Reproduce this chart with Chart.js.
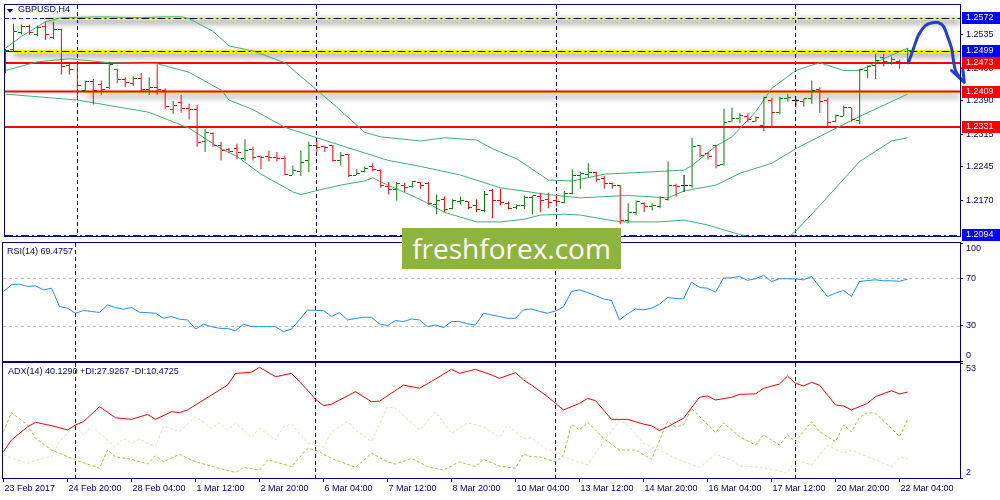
<!DOCTYPE html>
<html>
<head>
<meta charset="utf-8">
<title>GBPUSD,H4</title>
<script src="https://cdn.jsdelivr.net/npm/chart.js@4.4.1/dist/chart.umd.min.js"></script>
<style>
  html, body { margin: 0; padding: 0; background: #fff; }
  #wrap { position: relative; width: 1000px; height: 500px; overflow: hidden; font-family: "Liberation Sans", Arial, sans-serif; }
  canvas { position: absolute; left: 0; }
  .caption { position: absolute; font-size: 9px; line-height: 11px; color: #000080; white-space: nowrap; }
  #tri { position: absolute; left: 7px; top: 9px; width: 0; height: 0; border-left: 3px solid transparent; border-right: 3px solid transparent; border-top: 4px solid #000080; }
  #logo { position: absolute; left: 402px; top: 228px; width: 219px; height: 41px; background: #8db53e; color: #fff; font: 28px "Open Sans", sans-serif; line-height: 41px; text-align: center; }
</style>
</head>
<body>
<div id="wrap">
  <canvas id="main" width="1000" height="241" style="top:0"></canvas>
  <canvas id="rsi" width="1000" height="121" style="top:241px"></canvas>
  <canvas id="adx" width="1000" height="138" style="top:362px"></canvas>
  <div id="tri"></div>
  <div class="caption" style="left:18px;top:4px">GBPUSD,H4</div>
  <div class="caption" style="left:7px;top:246px">RSI(14) 69.4757</div>
  <div class="caption" style="left:8px;top:366px">ADX(14) 40.1290 +DI:27.9267 -DI:10.4725</div>
  <div id="logo">freshforex.com</div>
</div>
<script>
// time axis: one bar every 4 hours, label every 8 bars
const timeLabels = ['23 Feb 2017', '24 Feb 20:00', '28 Feb 04:00', '1 Mar 12:00', '2 Mar 20:00', '6 Mar 04:00', '7 Mar 12:00',
  '8 Mar 20:00', '10 Mar 04:00', '13 Mar 12:00', '14 Mar 20:00', '16 Mar 04:00', '17 Mar 12:00', '20 Mar 20:00', '22 Mar 04:00'];
const labelBars = [0, 8, 16, 24, 32, 40, 48, 56, 64, 72, 80, 88, 96, 104, 112];
const weekStarts = [9, 39, 69, 99];

const opens = [
  1.2456, 1.2503, 1.2540, 1.2553, 1.2535, 1.2553, 1.2529, 1.2546, 1.2467, 1.2471,
  1.2411, 1.2432, 1.2426, 1.2419, 1.2458, 1.2437, 1.2428, 1.2439, 1.2415, 1.2419,
  1.2413, 1.2370, 1.2385, 1.2372, 1.2370, 1.2299, 1.2318, 1.2290, 1.2282, 1.2284,
  1.2262, 1.2282, 1.2267, 1.2267, 1.2265, 1.2262, 1.2226, 1.2234, 1.2258, 1.2290,
  1.2288, 1.2290, 1.2258, 1.2271, 1.2226, 1.2234, 1.2245, 1.2237, 1.2200, 1.2194,
  1.2204, 1.2200, 1.2209, 1.2207, 1.2161, 1.2172, 1.2153, 1.2168, 1.2168, 1.2159,
  1.2148, 1.2191, 1.2170, 1.2164, 1.2155, 1.2159, 1.2176, 1.2179, 1.2172, 1.2170,
  1.2166, 1.2185, 1.2224, 1.2228, 1.2232, 1.2219, 1.2207, 1.2204, 1.2127, 1.2144,
  1.2164, 1.2157, 1.2157, 1.2172, 1.2202, 1.2202, 1.2204, 1.2290, 1.2273, 1.2290,
  1.2250, 1.2344, 1.2351, 1.2355, 1.2344, 1.2336, 1.2391, 1.2363, 1.2394, 1.2389,
  1.2387, 1.2394, 1.2415, 1.2391, 1.2344, 1.2355, 1.2374, 1.2346, 1.2456, 1.2467,
  1.2484, 1.2473, 1.2475, 1.2471];
const highs = [
  1.2503, 1.2559, 1.2557, 1.2557, 1.2555, 1.2563, 1.2563, 1.2548, 1.2471, 1.2473,
  1.2434, 1.2437, 1.2434, 1.2475, 1.2460, 1.2441, 1.2443, 1.2450, 1.2441, 1.2469,
  1.2417, 1.2389, 1.2402, 1.2383, 1.2381, 1.2327, 1.2320, 1.2299, 1.2286, 1.2295,
  1.2305, 1.2288, 1.2269, 1.2280, 1.2277, 1.2269, 1.2247, 1.2280, 1.2299, 1.2301,
  1.2290, 1.2292, 1.2277, 1.2273, 1.2239, 1.2245, 1.2252, 1.2239, 1.2211, 1.2211,
  1.2209, 1.2213, 1.2211, 1.2211, 1.2183, 1.2179, 1.2172, 1.2179, 1.2168, 1.2172,
  1.2191, 1.2196, 1.2196, 1.2168, 1.2161, 1.2181, 1.2181, 1.2187, 1.2187, 1.2181,
  1.2191, 1.2239, 1.2234, 1.2252, 1.2234, 1.2224, 1.2209, 1.2204, 1.2164, 1.2170,
  1.2166, 1.2164, 1.2179, 1.2256, 1.2207, 1.2226, 1.2308, 1.2292, 1.2277, 1.2292,
  1.2372, 1.2374, 1.2363, 1.2363, 1.2355, 1.2398, 1.2396, 1.2398, 1.2404, 1.2396,
  1.2394, 1.2434, 1.2419, 1.2396, 1.2359, 1.2379, 1.2374, 1.2460, 1.2467, 1.2492,
  1.2492, 1.2486, 1.2480, 1.2505];
const lows = [
  1.2450, 1.2499, 1.2535, 1.2535, 1.2531, 1.2523, 1.2525, 1.2447, 1.2447, 1.2391,
  1.2409, 1.2381, 1.2402, 1.2415, 1.2428, 1.2419, 1.2422, 1.2409, 1.2402, 1.2402,
  1.2372, 1.2361, 1.2363, 1.2348, 1.2288, 1.2277, 1.2288, 1.2258, 1.2275, 1.2260,
  1.2258, 1.2258, 1.2239, 1.2256, 1.2256, 1.2226, 1.2226, 1.2224, 1.2232, 1.2277,
  1.2277, 1.2256, 1.2247, 1.2222, 1.2226, 1.2232, 1.2234, 1.2198, 1.2183, 1.2170,
  1.2189, 1.2198, 1.2196, 1.2161, 1.2140, 1.2144, 1.2151, 1.2161, 1.2151, 1.2144,
  1.2144, 1.2131, 1.2159, 1.2151, 1.2151, 1.2151, 1.2140, 1.2144, 1.2153, 1.2157,
  1.2164, 1.2183, 1.2196, 1.2222, 1.2211, 1.2196, 1.2196, 1.2118, 1.2120, 1.2138,
  1.2144, 1.2148, 1.2153, 1.2170, 1.2179, 1.2189, 1.2198, 1.2265, 1.2260, 1.2241,
  1.2247, 1.2342, 1.2340, 1.2342, 1.2342, 1.2323, 1.2331, 1.2359, 1.2387, 1.2376,
  1.2376, 1.2383, 1.2363, 1.2331, 1.2342, 1.2355, 1.2344, 1.2338, 1.2439, 1.2437,
  1.2465, 1.2469, 1.2460, 1.2471];
const closes = [
  1.2499, 1.2542, 1.2553, 1.2540, 1.2550, 1.2535, 1.2546, 1.2465, 1.2458, 1.2422,
  1.2432, 1.2411, 1.2415, 1.2469, 1.2437, 1.2430, 1.2439, 1.2415, 1.2419, 1.2415,
  1.2376, 1.2379, 1.2372, 1.2370, 1.2297, 1.2320, 1.2290, 1.2280, 1.2277, 1.2275,
  1.2280, 1.2265, 1.2265, 1.2265, 1.2262, 1.2228, 1.2237, 1.2254, 1.2290, 1.2286,
  1.2286, 1.2258, 1.2269, 1.2224, 1.2230, 1.2241, 1.2239, 1.2202, 1.2194, 1.2207,
  1.2198, 1.2211, 1.2202, 1.2164, 1.2170, 1.2151, 1.2170, 1.2170, 1.2155, 1.2151,
  1.2183, 1.2170, 1.2166, 1.2153, 1.2159, 1.2176, 1.2181, 1.2170, 1.2166, 1.2168,
  1.2185, 1.2226, 1.2230, 1.2232, 1.2217, 1.2207, 1.2204, 1.2125, 1.2144, 1.2168,
  1.2157, 1.2159, 1.2176, 1.2204, 1.2200, 1.2202, 1.2288, 1.2269, 1.2267, 1.2247,
  1.2342, 1.2351, 1.2357, 1.2348, 1.2353, 1.2396, 1.2363, 1.2394, 1.2396, 1.2389,
  1.2394, 1.2411, 1.2387, 1.2342, 1.2357, 1.2374, 1.2348, 1.2458, 1.2465, 1.2477,
  1.2475, 1.2480, 1.2471, 1.2499];

// Bollinger bands, read as [bar, price]
const bbUpper = [[0,1.2505],[2,1.2531],[5,1.2563],[7,1.2572],[12,1.2574],[17,1.2572],[20,1.2574],[22,1.2574],[23,1.2570],
  [26,1.2542],[28,1.2510],[31,1.2499],[35,1.2473],[39,1.2413],[41,1.2383],[45,1.2320],[47,1.2310],[52,1.2301],[55,1.2308],
  [59,1.2303],[61,1.2284],[64,1.2262],[68,1.2215],[71,1.2213],[75,1.2228],[82,1.2234],[85,1.2237],[86,1.2247],[89,1.2290],
  [91,1.2310],[94,1.2366],[96,1.2417],[99,1.2456],[102,1.2473],[105,1.2456],[107,1.2456],[110,1.2482],[113,1.2505]];
const bbMiddle = [[0,1.2456],[4,1.2475],[8,1.2482],[13,1.2473],[19,1.2471],[23,1.2452],[27,1.2413],[28,1.2391],[31,1.2370],
  [35,1.2331],[39,1.2308],[44,1.2280],[48,1.2258],[52,1.2245],[57,1.2226],[62,1.2198],[68,1.2183],[72,1.2176],[78,1.2181],
  [83,1.2176],[85,1.2191],[89,1.2204],[92,1.2230],[96,1.2252],[99,1.2284],[103,1.2320],[107,1.2355],[113,1.2404]];
const bbLower = [[0,1.2404],[9,1.2391],[14,1.2376],[18,1.2364],[23,1.2329],[27,1.2284],[29,1.2267],[32,1.2228],[36,1.2189],
  [37,1.2183],[39,1.2192],[42,1.2204],[45,1.2213],[46,1.2220],[47,1.2211],[52,1.2172],[55,1.2144],[59,1.2123],[62,1.2123],
  [65,1.2129],[67,1.2138],[70,1.2140],[72,1.2138],[77,1.2123],[82,1.2123],[85,1.2127],[88,1.2116],[92,1.2095],[95,1.2082],
  [98,1.2088],[99,1.2103],[102,1.2159],[107,1.2256],[111,1.2301],[113,1.2308]];

const priceTicks = [1.2535, 1.2460, 1.2390, 1.2315, 1.2245, 1.2170];
const levelPrices = [1.2572, 1.2499, 1.2473, 1.2409, 1.2331, 1.2094];

// hand drawn forecast arrow, [bar, price]
const arrowPath = [[113.1,1.2473],[113.75,1.2505],[114.4,1.2535],[115.25,1.2555],[116.1,1.2561],[116.9,1.2561],
  [117.5,1.2553],[118.0,1.2531],[118.5,1.2505],[118.75,1.2477],[119.0,1.2456],[119.6,1.2439],[120.1,1.2430]];
const arrowHead = [[118.5,1.2456],[120.1,1.2430],[119.9,1.2462]];

const rsi = [
  58.9, 64.6, 65.1, 63.2, 63.7, 60.3, 61.7, 46.2, 44.7, 40.5,
  42.8, 42.0, 41.1, 47.5, 45.3, 43.9, 45.3, 41.3, 41.0, 40.5,
  36.2, 37.7, 35.4, 34.8, 27.1, 31.1, 29.1, 27.7, 27.5, 25.7,
  31.1, 29.1, 29.1, 29.1, 29.0, 24.9, 27.1, 35.0, 43.3, 42.8,
  42.8, 37.7, 41.1, 34.8, 36.0, 37.1, 37.1, 31.4, 30.0, 34.3,
  33.4, 35.6, 34.8, 29.1, 30.5, 28.3, 33.4, 33.4, 31.5, 30.5,
  40.5, 39.0, 37.7, 36.2, 36.2, 43.3, 44.1, 42.0, 40.5, 42.4,
  46.0, 58.9, 60.3, 58.0, 55.5, 52.6, 51.3, 34.8, 40.0, 44.1,
  43.3, 44.7, 48.1, 53.8, 53.0, 52.6, 66.9, 62.3, 61.7, 58.3,
  70.3, 70.5, 71.7, 68.3, 69.7, 72.6, 67.4, 69.7, 69.7, 69.5,
  68.8, 71.7, 63.0, 54.7, 57.5, 59.8, 54.7, 67.4, 68.2, 68.8,
  68.0, 68.0, 67.5, 69.5];
const rsiLevels = [30, 70];
const rsiTicks = [0, 30, 70, 100];

// ADX(14) with +DI / -DI, read as [bar, value]
const adx = [[0,13.7],[1,18.9],[3,24.7],[4,26.7],[6,25.2],[8,23.3],[9,25.5],[10,27.0],[12,33.6],[14,28.7],[16,28.0],
  [18,30.2],[19,28.0],[21,31.4],[22,31.0],[23,32.2],[26,38.8],[28,43.2],[29,48.4],[31,48.9],[32,51.1],[34,46.9],
  [36,48.4],[38,41.0],[39,36.9],[40,34.1],[41,34.7],[44,40.3],[46,35.8],[47,36.1],[50,43.2],[52,41.8],[54,45.9],
  [56,50.2],[57,48.4],[59,50.2],[61,47.7],[62,46.2],[64,48.7],[65,45.5],[66,43.2],[68,38.1],[69,35.1],[70,32.2],
  [72,35.1],[73,37.3],[74,36.3],[76,28.0],[78,28.0],[80,25.9],[81,25.2],[82,23.0],[83,24.7],[85,28.5],[87,37.8],
  [88,38.4],[89,36.6],[91,37.8],[92,39.1],[94,39.3],[95,41.8],[97,43.7],[98,47.2],[99,44.0],[100,42.8],[101,44.4],
  [102,43.2],[104,34.4],[105,33.9],[106,32.2],[108,35.1],[109,38.1],[111,40.7],[112,39.3],[113,40.1]];
const plusDi = [[0,22.5],[1,31.0],[3,25.5],[4,19.6],[6,14.4],[9,10.0],[12,6.3],[13,14.4],[14,11.4],[16,10.3],[18,8.2],
  [19,11.9],[20,9.2],[22,12.5],[24,9.2],[27,6.3],[29,4.5],[30,6.7],[32,5.5],[33,10.0],[34,9.2],[36,7.0],[38,15.2],
  [39,14.4],[41,10.7],[44,6.7],[46,13.0],[48,9.2],[49,8.2],[51,10.7],[53,7.0],[55,5.5],[57,9.2],[59,7.0],[60,10.3],
  [62,7.3],[64,6.3],[65,12.6],[66,11.4],[67,11.4],[69,9.2],[70,12.2],[71,25.8],[72,23.3],[73,26.7],[74,23.3],[75,19.6],
  [77,14.4],[79,14.4],[81,10.3],[83,27.0],[84,24.7],[85,25.5],[86,32.9],[89,22.1],[90,26.5],[92,20.3],[94,16.6],
  [95,21.1],[97,16.6],[98,21.1],[99,18.1],[101,27.0],[102,22.5],[104,18.1],[105,25.5],[106,22.5],[107,28.9],[108,31.0],
  [109,30.7],[111,24.0],[112,20.3],[113,27.9]];
const minusDi = [[0,12.2],[3,8.5],[5,11.0],[6,11.4],[7,18.1],[9,25.5],[10,21.1],[11,25.1],[14,15.6],[15,19.6],[16,17.4],
  [17,19.2],[19,15.9],[20,25.1],[22,22.5],[24,29.2],[26,24.0],[27,26.5],[28,23.3],[29,26.3],[31,20.0],[32,24.0],
  [34,18.9],[35,24.7],[36,26.0],[38,17.4],[40,15.6],[41,22.5],[43,27.0],[44,23.3],[46,18.1],[48,33.6],[49,32.9],
  [52,23.3],[54,31.4],[56,21.8],[58,26.5],[60,24.7],[62,20.0],[63,25.5],[65,19.3],[66,19.9],[68,14.4],[69,14.1],
  [70,11.4],[73,7.8],[75,18.1],[77,27.7],[78,25.5],[80,17.4],[82,14.4],[84,10.7],[87,6.7],[89,12.5],[91,10.0],
  [92,7.3],[94,7.0],[97,5.1],[98,4.1],[99,10.0],[101,7.8],[103,16.6],[105,13.0],[106,14.4],[109,10.0],[111,7.0],
  [112,11.2],[113,10.5]];
const adxTicks = [2, 53];

// ---------------------------------------------------------------

const navy = '#000080';
const xRange = { min: -0.0625, max: 119.5625 };   // 8px per bar
Chart.defaults.font.family = '"Liberation Sans", Arial, sans-serif';
Chart.defaults.font.size = 9;
Chart.defaults.color = navy;

const pairs = arr => arr.map(([x, y]) => ({ x, y }));
const series = arr => arr.map((y, x) => ({ x, y }));

function barColor(i) {
  if (closes[i] > opens[i]) return '#008000';
  if (closes[i] < opens[i]) return '#ff0000';
  return '#000000';
}

const tickCache = {};
function tickFor(i, left) {
  const color = barColor(i);
  const key = color + left;
  if (!tickCache[key]) {
    const c = document.createElement('canvas');
    c.width = 7; c.height = 1;
    const g = c.getContext('2d');
    g.fillStyle = color;
    g.fillRect(left ? 0 : 4, 0, 3, 1);
    tickCache[key] = c;
  }
  return tickCache[key];
}

function hLine(ctx, x0, x1, y) {
  ctx.beginPath(); ctx.moveTo(x0, y); ctx.lineTo(x1, y); ctx.stroke();
}

function hiddenX() {
  return { type: 'linear', min: xRange.min, max: xRange.max, offset: false, display: false };
}

function rightAxis(min, max, ticks, fmt) {
  return {
    position: 'right', min: min, max: max,
    afterBuildTicks: s => { s.ticks = ticks.map(v => ({ value: v })); },
    afterFit: s => { s.width = 40; s.paddingTop = 0; s.paddingBottom = 0; },
    ticks: { color: navy, padding: 3, autoSkip: false, callback: fmt },
    grid: { drawOnChartArea: false, tickLength: 3, color: navy },
    border: { display: false }
  };
}

// edge labels sit inside the panel like in the terminal
function edgeLabels(min, max) {
  return v => v === max ? ['', String(v)] : v === min ? [String(v), ''] : String(v);
}

const baseOptions = {
  responsive: false,
  animation: false,
  events: [],
  plugins: { legend: { display: false }, tooltip: { enabled: false } }
};

const crispTicks = {
  id: 'crispTicks',
  beforeDatasetsDraw(chart) { chart.ctx.imageSmoothingEnabled = false; }
};

const panelFrame = {
  id: 'panelFrame',
  beforeDatasetsDraw(chart) {
    const { ctx, chartArea: a, scales: { x } } = chart;
    ctx.save();
    ctx.strokeStyle = navy;
    ctx.lineWidth = 1;
    ctx.setLineDash([4, 3]);
    weekStarts.forEach(b => {
      const px = Math.floor(x.getPixelForValue(b)) + 0.5;
      ctx.beginPath(); ctx.moveTo(px, a.top); ctx.lineTo(px, a.bottom); ctx.stroke();
    });
    ctx.restore();
  },
  afterDraw(chart) {
    const { ctx, chartArea: a } = chart;
    ctx.save();
    ctx.strokeStyle = navy;
    ctx.lineWidth = 1;
    ctx.strokeRect(a.left - 0.5, a.top - 0.5, a.right - a.left + 1, a.bottom - a.top + 1);
    ctx.restore();
  }
};

const levelStyle = [
  { box: '#0000ff', kind: 'marked', from: 5, lead: [4, 3] },
  { box: '#0000ff', kind: 'marked', from: 1, lead: [] },
  { box: '#ff0000', kind: 'red' },
  { box: '#ff0000', kind: 'redMarked', from: 10 },
  { box: '#ff0000', kind: 'red' },
  { box: '#0000ff', kind: 'dashdot' }
];

function withShadow(ctx, draw) {
  ctx.save();
  ctx.shadowColor = 'rgba(0,0,0,0.6)';
  ctx.shadowBlur = 6;
  ctx.shadowOffsetY = 3;
  draw();
  ctx.restore();
}

const priceLevels = {
  id: 'priceLevels',
  beforeDatasetsDraw(chart) {
    const { ctx, chartArea: a, scales: { x, y } } = chart;
    ctx.save();
    ctx.beginPath();
    ctx.rect(a.left, a.top, a.right - a.left, a.bottom - a.top);
    ctx.clip();
    levelPrices.forEach((p, k) => {
      const st = levelStyle[k];
      const row = Math.round(y.getPixelForValue(p));
      if (st.kind === 'marked') {
        const x0 = x.getPixelForValue(st.from);
        withShadow(ctx, () => {
          ctx.strokeStyle = '#ffff00';
          ctx.lineWidth = 3;
          hLine(ctx, x0, a.right, row + 0.5);
        });
        ctx.save();
        ctx.strokeStyle = '#0000ff';
        ctx.lineWidth = 1;
        ctx.setLineDash(st.lead);
        hLine(ctx, a.left, x0, row + 0.5);
        ctx.strokeStyle = '#000000';
        ctx.setLineDash([8, 3, 2, 3]);
        hLine(ctx, x0, a.right, row + 0.5);
        ctx.restore();
      } else if (st.kind === 'redMarked') {
        const x0 = x.getPixelForValue(st.from);
        withShadow(ctx, () => {
          ctx.strokeStyle = '#ffff00';
          ctx.lineWidth = 2;
          hLine(ctx, x0, a.right, row + 1);
        });
        ctx.strokeStyle = '#ff0000';
        ctx.lineWidth = 2;
        hLine(ctx, a.left, a.right, row - 0.5);
      } else if (st.kind === 'red') {
        ctx.strokeStyle = '#ff0000';
        ctx.lineWidth = 2;
        hLine(ctx, a.left, a.right, row);
      } else {
        ctx.save();
        ctx.strokeStyle = '#0000ff';
        ctx.lineWidth = 1;
        ctx.setLineDash([8, 3, 2, 3]);
        hLine(ctx, a.left, a.right, row + 0.5);
        ctx.restore();
      }
    });
    ctx.restore();
  },
  afterDraw(chart) {
    const { ctx, chartArea: a, scales: { y } } = chart;
    ctx.save();
    ctx.font = '9px "Liberation Sans", Arial, sans-serif';
    ctx.textBaseline = 'middle';
    levelPrices.forEach((p, k) => {
      const row = Math.round(y.getPixelForValue(p));
      ctx.fillStyle = levelStyle[k].box;
      ctx.fillRect(a.right + 2, row - 6, 40, 12);
      ctx.fillStyle = '#ffffff';
      ctx.fillText(p.toFixed(4), a.right + 6, row);
    });
    ctx.restore();
  }
};

const rsiBands = {
  id: 'rsiBands',
  beforeDatasetsDraw(chart) {
    const { ctx, chartArea: a, scales: { y } } = chart;
    ctx.save();
    ctx.strokeStyle = '#c0c0c0';
    ctx.lineWidth = 1;
    ctx.setLineDash([3, 3]);
    rsiLevels.forEach(v => hLine(ctx, a.left, a.right, Math.round(y.getPixelForValue(v)) + 0.5));
    ctx.restore();
  }
};

function mountMain() {
  const bbColor = '#3cb371';
  const arrowColor = '#1f3fd6';
  const band = (label, pts) => ({
    type: 'line', label: label, data: pairs(pts), borderColor: bbColor, borderWidth: 1, pointRadius: 0, order: 4
  });

  const data = {
    datasets: [
      { type: 'line', label: 'Forecast', data: pairs(arrowPath), borderColor: arrowColor, borderWidth: 3,
        tension: 0.3, pointRadius: 0, clip: false, borderCapStyle: 'round', order: 0 },
      { type: 'line', label: 'Forecast head', data: pairs(arrowHead), borderColor: arrowColor, borderWidth: 3,
        pointRadius: 0, clip: false, borderCapStyle: 'round', borderJoinStyle: 'round', order: 0 },
      { type: 'line', label: 'Open', data: series(opens), showLine: false, pointRadius: 1, order: 1,
        pointStyle: c => c.dataIndex === undefined ? 'circle' : tickFor(c.dataIndex, true) },
      { type: 'line', label: 'Close', data: series(closes), showLine: false, pointRadius: 1, order: 1,
        pointStyle: c => c.dataIndex === undefined ? 'circle' : tickFor(c.dataIndex, false) },
      { type: 'bar', label: 'High-Low', data: opens.map((_, i) => ({ x: i, y: [lows[i], highs[i]] })),
        backgroundColor: c => barColor(c.dataIndex), barThickness: 1, grouped: false,
        inflateAmount: 0, borderWidth: 0, order: 2 },
      band('BB upper', bbUpper),
      band('BB middle', bbMiddle),
      band('BB lower', bbLower)
    ]
  };

  new Chart(document.getElementById('main'), {
    type: 'bar',
    data: data,
    options: Object.assign({}, baseOptions, {
      layout: { padding: { left: 3, top: 3, right: 0, bottom: 2 } },
      scales: {
        x: hiddenX(),
        y: rightAxis(1.2092, 1.2600, priceTicks, v => v.toFixed(4))
      }
    }),
    plugins: [crispTicks, panelFrame, priceLevels]
  });
}

function mountRsi() {
  new Chart(document.getElementById('rsi'), {
    type: 'line',
    data: {
      datasets: [{ label: 'RSI(14)', data: series(rsi), borderColor: '#1e90ff', borderWidth: 1, pointRadius: 0 }]
    },
    options: Object.assign({}, baseOptions, {
      layout: { padding: { left: 3, top: 2, right: 0, bottom: 1 } },
      scales: {
        x: hiddenX(),
        y: rightAxis(0, 100, rsiTicks, edgeLabels(0, 100))
      }
    }),
    plugins: [panelFrame, rsiBands]
  });
}

function mountAdx() {
  new Chart(document.getElementById('adx'), {
    type: 'line',
    data: {
      datasets: [
        { label: 'ADX', data: pairs(adx), borderColor: '#ff0000', borderWidth: 1, pointRadius: 0, order: 0 },
        { label: '+DI', data: pairs(plusDi), borderColor: '#9acd32', borderWidth: 1, borderDash: [3, 2], pointRadius: 0, order: 1 },
        { label: '-DI', data: pairs(minusDi), borderColor: '#f5deb3', borderWidth: 1, borderDash: [3, 2], pointRadius: 0, order: 2 }
      ]
    },
    options: Object.assign({}, baseOptions, {
      layout: { padding: { left: 3, top: 1, right: 0, bottom: 0 } },
      scales: {
        x: {
          type: 'linear', min: xRange.min, max: xRange.max, offset: false, position: 'bottom',
          afterBuildTicks: s => { s.ticks = labelBars.map(v => ({ value: v })); },
          afterFit: s => { s.height = 22; s.paddingLeft = 0; s.paddingRight = 0; },
          ticks: { color: navy, align: 'start', labelOffset: 1, padding: 1, maxRotation: 0, minRotation: 0,
            autoSkip: false, callback: (v, i) => timeLabels[i] },
          grid: { drawOnChartArea: false, tickLength: 4, color: navy, offset: false },
          border: { display: false }
        },
        y: rightAxis(2, 53, adxTicks, edgeLabels(2, 53))
      }
    }),
    plugins: [panelFrame]
  });
}

mountMain();
mountRsi();
mountAdx();
</script>
</body>
</html>
